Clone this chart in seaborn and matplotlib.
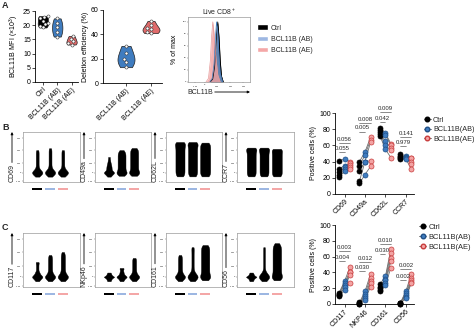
import matplotlib
matplotlib.use('Agg')
import matplotlib.pyplot as plt
import pandas as pd
import seaborn as sns
from matplotlib.patches import Patch, Rectangle
from matplotlib.lines import Line2D
import matplotlib.transforms as mtransforms

# ---------------- data ----------------
mfi_groups = ['Ctrl', 'BCL11B (AB)', 'BCL11B (AE)']
mfi_ctrl = [23.2, 22.8, 22.4, 21.6, 20.8, 20.3, 19.8, 19.2]
mfi_ab = [22.4, 20.6, 19.2, 17.6, 16.0]
mfi_ae = [16.2, 15.2, 14.3, 13.7, 13.2]

del_groups = ['BCL11B (AB)', 'BCL11B (AE)']
del_ab = [30.5, 24.5, 20.0, 17.5, 13.0]
del_ae = [51.0, 47.5, 45.0, 44.0, 42.0, 41.0]

# histogram outlines (x: position in plot, y: % of max)
hist_ctrl_x = [0.36, 0.40, 0.43, 0.45, 0.47, 0.48, 0.50, 0.52, 0.54, 0.57]
hist_ctrl_y = [0, 5, 25, 60, 92, 100, 75, 35, 10, 0]
hist_ab_x = [0.35, 0.39, 0.42, 0.44, 0.46, 0.48, 0.50, 0.52, 0.56]
hist_ab_y = [0, 6, 30, 70, 100, 85, 45, 15, 0]
hist_ae_x = [0.29, 0.33, 0.36, 0.38, 0.40, 0.42, 0.45, 0.48, 0.52]
hist_ae_y = [0, 6, 35, 75, 100, 80, 40, 12, 0]
hist_xticks = [0.11, 0.27, 0.47, 0.68, 0.89]
hist_xticklabels = ['-10$^3$', '0', '10$^3$', '10$^4$', '10$^5$']

# flow cytometry columns (logicle-like units)
flow_ticks = [-0.65, 0, 0.8, 1.85, 2.8]
flow_ticklabels = ['-10$^3$', '0', '10$^3$', '10$^4$', '10$^5$']
blob = [-0.32, -0.24, -0.18, -0.12, -0.08, -0.04, 0, 0, 0.04, 0.08, 0.12, 0.18, 0.24, 0.32]
blob_small = [-0.25, -0.15, -0.05, 0, 0.05, 0.15, 0.25]

cd69_ctrl = blob + [0.45, 0.6, 0.75, 0.9, 1.05, 1.2, 1.35, 1.5, 1.65, 1.8]
cd69_ab = blob + [0.45, 0.6, 0.75, 0.9, 1.05, 1.2, 1.35, 1.5, 1.65, 1.8, 1.95]
cd69_ae = blob + [0.45, 0.6, 0.75, 0.9, 1.05, 1.2, 1.35, 1.5, 1.65, 1.8]
cd49a_ctrl = blob + [0.38, 0.45, 0.52, 0.6, 0.68, 0.78, 0.9, 1.05, 1.25]
cd49a_ab = blob_small + [0.35, 0.45, 0.55, 0.65, 0.75, 0.85, 0.95, 1.05, 1.15, 1.25, 1.35, 1.45, 1.55, 1.65, 1.8]
cd49a_ae = blob_small + [0.35, 0.45, 0.55, 0.65, 0.75, 0.85, 0.95, 1.05, 1.15, 1.25, 1.35, 1.45, 1.55, 1.65, 1.75, 1.85, 1.97]
cd62l_ctrl = [-0.3, -0.15, 0, 0.15, 0.3, 0.45, 0.6, 0.75, 0.9, 1.05, 1.2, 1.35, 1.5, 1.65, 1.8, 1.95, 2.1, 2.25, 2.35, 2.45]
cd62l_ab = [-0.3, -0.15, 0, 0.15, 0.3, 0.45, 0.6, 0.75, 0.9, 1.05, 1.2, 1.35, 1.5, 1.65, 1.8, 1.95, 2.1, 2.25, 2.35, 2.45]
cd62l_ae = [-0.3, -0.15, 0, 0.15, 0.3, 0.45, 0.6, 0.75, 0.9, 1.05, 1.2, 1.35, 1.5, 1.65, 1.8, 1.95, 2.1, 2.25, 2.4]
ccr7_ctrl = [-0.3, -0.15, 0, 0.15, 0.3, 0.45, 0.6, 0.75, 0.9, 1.05, 1.2, 1.35, 1.5, 1.65, 1.8, 1.9, 2.0]
ccr7_ab = [-0.3, -0.15, 0, 0.15, 0.3, 0.45, 0.6, 0.75, 0.9, 1.05, 1.2, 1.35, 1.5, 1.65, 1.8, 1.9, 2.0]
ccr7_ae = [-0.3, -0.15, 0, 0.15, 0.3, 0.45, 0.6, 0.75, 0.9, 1.05, 1.2, 1.35, 1.5, 1.65, 1.8, 1.9]

cd117_ctrl = blob + [0.4, 0.55, 0.7, 0.85, 1.0, 1.1]
cd117_ab = blob + [0.4, 0.5, 0.6, 0.7, 0.8, 0.9, 1.0, 1.1, 1.2, 1.3, 1.4, 1.5, 1.62]
cd117_ae = blob + [0.4, 0.5, 0.6, 0.7, 0.8, 0.9, 1.0, 1.1, 1.2, 1.3, 1.4, 1.5, 1.6, 1.7, 1.84]
nkp46_ctrl = blob
nkp46_ab = blob + [0.4, 0.5, 0.6, 0.66]
nkp46_ae = blob + [0.4, 0.5, 0.6, 0.7, 0.8, 0.9, 1.0, 1.1, 1.2, 1.3, 1.4]
cd161_ctrl = blob + [0.4, 0.5, 0.6, 0.7, 0.8, 0.9, 1.0, 1.1, 1.2, 1.3, 1.4, 1.5, 1.62]
cd161_ab = blob + [0.45, 0.65, 0.85, 1.05, 1.25, 1.45, 1.65, 1.85, 2.05, 2.2]
cd161_ae = blob_small + [0.35, 0.45, 0.55, 0.65, 0.75, 0.85, 0.95, 1.05, 1.15, 1.25, 1.35, 1.45, 1.55, 1.65, 1.75, 1.85, 1.95, 2.05, 2.15, 2.25, 2.36]
cd56_ctrl = blob
cd56_ab = blob + [0.45, 0.7, 0.95, 1.2, 1.45, 1.7, 1.95, 2.2]
cd56_ae = blob_small + [0.35, 0.45, 0.55, 0.65, 0.75, 0.85, 0.95, 1.05, 1.15, 1.25, 1.35, 1.45, 1.55, 1.65, 1.75, 1.85, 1.95, 2.05, 2.15, 2.25, 2.35, 2.5]

# paired percentages (5 donors)
b_markers = ['CD69', 'CD49a', 'CD62L', 'CCR7']
b_ctrl = [[41, 31, 27, 24, 21], [40, 35, 29, 16, 13], [82, 79, 76, 74, 72], [49, 47, 46, 44, 43]]
b_ab = [[43, 35, 33, 31, 28], [52, 48, 40, 40, 24], [75, 73, 65, 60, 55], [47, 46, 45, 44, 43]]
b_ae = [[40, 38, 36, 33, 31], [70, 67, 64, 41, 34], [62, 60, 57, 54, 45], [45, 44, 40, 37, 31]]
b_p_upper = ['0.056', '0.008', '0.009', '0.141']
b_p_upper_y = [63, 88, 101, 70]
b_p_lower = ['0.055', '0.005', '0.042', '0.979']
b_p_lower_y = [52, 77, 89, 59]

c_markers = ['CD117', 'NKP46', 'CD161', 'CD56']
c_ctrl = [[14, 13, 12, 11, 10], [2, 1, 1, 0.5, 0.5], [25, 22, 20, 18, 16], [1.5, 1, 1, 0.5, 0.5]]
c_ab = [[29, 27, 24, 21, 18], [16, 13, 10, 7, 5], [35, 32, 30, 27, 24], [16, 14, 12, 9, 7]]
c_ae = [[47, 41, 40, 37, 27], [38, 33, 29, 26, 22], [70, 65, 58, 54, 46], [38, 33, 30, 28, 27]]
c_p_upper = ['0.003', '0.012', '0.010', '0.002']
c_p_upper_y = [67, 53, 76, 44]
c_p_lower = ['0.004', '0.030', '0.030', '0.002']
c_p_lower_y = [54, 42, 63, 30]

pct_ticks = [0, 20, 40, 60, 80, 100]

# ---------------- style ----------------
sns.set_style('ticks')
plt.rcParams['font.family'] = ['Liberation Sans', 'DejaVu Sans']
plt.rcParams.update({
    'font.size': 5, 'axes.linewidth': 0.6, 'xtick.major.width': 0.5, 'ytick.major.width': 0.5,
    'xtick.major.size': 2, 'ytick.major.size': 2, 'xtick.major.pad': 1, 'ytick.major.pad': 1,
    'axes.labelpad': 1.5, 'axes.edgecolor': 'black', 'xtick.color': 'black', 'ytick.color': 'black',
    'axes.labelcolor': 'black', 'mathtext.default': 'regular', 'axes.labelsize': 5,
    'xtick.labelsize': 5, 'ytick.labelsize': 5,
})

C_CTRL, C_AB, C_AE = '#000000', '#3f7cbf', '#e06b6b'
C_AB_L, C_AE_L = '#9db7e2', '#f4a7a7'

W, H = 474, 331
fig = plt.figure(figsize=(W / 100, H / 100), dpi=100)


def add_ax(x0, y0, x1, y1):
    return fig.add_axes([x0 / W, 1 - y1 / H, (x1 - x0) / W, (y1 - y0) / H])


def rot_labels(ax):
    for t in ax.get_xticklabels():
        t.set_rotation(45)
        t.set_ha('right')
        t.set_rotation_mode('anchor')


# ---------------- Panel A ----------------
df_mfi = pd.DataFrame({'group': ['Ctrl'] * len(mfi_ctrl) + ['BCL11B (AB)'] * len(mfi_ab) + ['BCL11B (AE)'] * len(mfi_ae),
                       'value': mfi_ctrl + mfi_ab + mfi_ae})
ax = add_ax(35, 11, 78, 82)
sns.violinplot(data=df_mfi, x='group', y='value', hue='group', order=mfi_groups, hue_order=mfi_groups,
               palette=[C_CTRL, C_AB, C_AE], cut=0, inner=None, width=0.72, linewidth=0.5,
               linecolor='#222222', legend=False, ax=ax, saturation=1)
sns.swarmplot(data=df_mfi, x='group', y='value', order=mfi_groups, color='white', edgecolor='#333333',
              linewidth=0.4, size=2.2, ax=ax)
ax.set_ylim(0, 25)
ax.set_yticks([0, 5, 10, 15, 20, 25])
ax.set_xlim(-0.55, 2.45)
ax.set_xlabel('')
ax.set_ylabel('BCL11B MFI (×10$^3$)')
rot_labels(ax)
sns.despine(ax=ax)

df_del = pd.DataFrame({'group': ['BCL11B (AB)'] * len(del_ab) + ['BCL11B (AE)'] * len(del_ae),
                       'value': del_ab + del_ae})
ax = add_ax(103, 10, 162, 83)
sns.violinplot(data=df_del, x='group', y='value', hue='group', order=del_groups, hue_order=del_groups,
               palette=[C_AB, C_AE], cut=0, inner=None, width=0.68, linewidth=0.5,
               linecolor='#222222', legend=False, ax=ax, saturation=1)
sns.swarmplot(data=df_del, x='group', y='value', order=del_groups, color='white', edgecolor='#333333',
              linewidth=0.4, size=2.2, ax=ax)
ax.set_ylim(0, 60)
ax.set_yticks([0, 20, 40, 60])
ax.set_xlim(-0.92, 1.44)
ax.set_xlabel('')
ax.set_ylabel('Deletion efficiency (%)')
rot_labels(ax)
sns.despine(ax=ax)

# histogram
ax = add_ax(188, 17, 250, 82)
sns.lineplot(x=hist_ctrl_x, y=hist_ctrl_y, color='black', lw=0.5, ax=ax)
ax.fill_between(hist_ctrl_x, hist_ctrl_y, color='black', lw=0)
sns.lineplot(x=hist_ab_x, y=hist_ab_y, color=C_AB, lw=0.5, ax=ax)
ax.fill_between(hist_ab_x, hist_ab_y, color='#7fa5d8', alpha=0.8, lw=0)
sns.lineplot(x=hist_ae_x, y=hist_ae_y, color='#e59a9a', lw=0.5, ax=ax)
ax.fill_between(hist_ae_x, hist_ae_y, color='#f2a0a0', alpha=0.8, lw=0)
ax.set_xlim(0, 1)
ax.set_ylim(0, 108)
ax.set_xticks(hist_xticks)
ax.set_xticklabels(hist_xticklabels)
ax.set_yticks([0, 20, 40, 60, 80, 100])
ax.tick_params(length=1, width=0.3, labelsize=1.6, pad=0.3, color='#555555')
for s in ax.spines.values():
    s.set_color('#9a9a9a')
    s.set_linewidth(0.5)
ax.set_title('Live CD8$^+$', fontsize=5, pad=1.5)
ax.set_ylabel('% of max', labelpad=3)

fig.legend(handles=[Patch(facecolor='black'), Patch(facecolor=C_AB_L), Patch(facecolor=C_AE_L)],
           labels=['Ctrl', 'BCL11B (AB)', 'BCL11B (AE)'], loc='upper left',
           bbox_to_anchor=(254 / W, 1 - 21 / H), frameon=False, fontsize=5,
           handlelength=1.5, handleheight=0.8, handletextpad=0.4, labelspacing=0.6, borderpad=0)

# ---------------- Flow panels ----------------
arrow_jobs = []


def flow_panel(x0, x1, y0, y1, cols, label):
    ax = add_ax(x0, y0, x1, y1)
    df = pd.DataFrame({'g': sum([[k] * len(c) for k, c in enumerate(cols)], []), 'v': sum(cols, [])})
    sns.violinplot(data=df, x='g', y='v', color='black', cut=0, inner=None, density_norm='width',
                   width=0.8, bw_adjust=0.4, linewidth=0.3, linecolor='black', ax=ax, saturation=1)
    ax.set_xlim(-1.11, 3.34)
    ax.set_ylim(-0.75, 3.25)
    ax.set_xlabel('')
    ax.set_ylabel('')
    ax.set_xticks([])
    ax.set_yticks(flow_ticks)
    ax.set_yticklabels(flow_ticklabels)
    ax.tick_params(axis='y', length=1, width=0.3, labelsize=1.6, pad=0.4, color='#555555')
    for s in ax.spines.values():
        s.set_color('#9a9a9a')
        s.set_linewidth(0.5)
    trans = mtransforms.blended_transform_factory(ax.transData, ax.transAxes)
    hbar = 2.7 / (y1 - y0)
    ycen = -7 / (y1 - y0)
    for k, col in enumerate(['black', C_AB_L, C_AE_L]):
        ax.add_patch(Rectangle((k - 0.39, ycen - hbar / 2), 0.78, hbar, transform=trans, color=col,
                               clip_on=False, lw=0))
    t = fig.text((x0 - 11) / W, 1 - y1 / H, label, rotation=90, ha='center', va='bottom', fontsize=5)
    arrow_jobs.append(('v', t, x0 - 11, H - y0))
    return ax


box_x = [(23, 80), (95, 151), (166, 222), (237, 294)]
b_flow = [[cd69_ctrl, cd69_ab, cd69_ae], [cd49a_ctrl, cd49a_ab, cd49a_ae],
          [cd62l_ctrl, cd62l_ab, cd62l_ae], [ccr7_ctrl, ccr7_ab, ccr7_ae]]
c_flow = [[cd117_ctrl, cd117_ab, cd117_ae], [nkp46_ctrl, nkp46_ab, nkp46_ae],
          [cd161_ctrl, cd161_ab, cd161_ae], [cd56_ctrl, cd56_ab, cd56_ae]]
b_flow_labels = ['CD69', 'CD49a', 'CD62L', 'CCR7']
c_flow_labels = ['CD117', 'NKp46', 'CD161', 'CD56']
for (x0, x1), cols, lab in zip(box_x, b_flow, b_flow_labels):
    flow_panel(x0, x1, 132, 182, cols, lab)
for (x0, x1), cols, lab in zip(box_x, c_flow, c_flow_labels):
    flow_panel(x0, x1, 233, 287, cols, lab)


# ---------------- Paired panels ----------------
def paired_panel(x0, y0, x1, y1, markers, ctrl, ab, ae, pu, puy, pl, ply):
    ax = add_ax(x0, y0, x1, y1)
    rows = []
    for i, m in enumerate(markers):
        for d in range(len(ctrl[i])):
            for g, vals, off in (('Ctrl', ctrl[i], -0.27), ('BCL11B(AB)', ab[i], 0.0), ('BCL11B(AE)', ae[i], 0.27)):
                rows.append(dict(marker=m, donor=f'{m}_{d}', group=g, x=i + off, value=vals[d]))
    df = pd.DataFrame(rows)
    sns.lineplot(data=df, x='x', y='value', units='donor', estimator=None, color='#6e6e6e', lw=0.6,
                 ax=ax, legend=False, sort=False)
    for g, fc, ec in (('Ctrl', 'black', 'black'), ('BCL11B(AB)', C_AB, '#1f4f86'), ('BCL11B(AE)', '#f3a3a3', '#c83c3c')):
        sub = df[df.group == g]
        sns.scatterplot(data=sub, x='x', y='value', color=fc, edgecolor=ec, linewidth=0.5, s=13,
                        ax=ax, legend=False, clip_on=False, zorder=3)
    for i in range(len(markers)):
        ax.plot([i - 0.27, i + 0.27], [puy[i], puy[i]], color='#333333', lw=0.4, clip_on=False)
        ax.text(i, puy[i] + 1.5, pu[i], ha='center', va='bottom', fontsize=4.3, clip_on=False)
        ax.plot([i - 0.27, i], [ply[i], ply[i]], color='#333333', lw=0.4, clip_on=False)
        ax.text(i - 0.13, ply[i] + 1.5, pl[i], ha='center', va='bottom', fontsize=4.3, clip_on=False)
    ax.set_xlim(-0.47, 3.4)
    ax.set_ylim(0, 100)
    ax.set_yticks(pct_ticks)
    ax.set_xticks(range(len(markers)))
    ax.set_xticklabels(markers)
    rot_labels(ax)
    ax.set_xlabel('')
    ax.set_ylabel('Positive cells (%)')
    sns.despine(ax=ax)
    return ax


paired_panel(335, 113, 414, 194, b_markers, b_ctrl, b_ab, b_ae, b_p_upper, b_p_upper_y, b_p_lower, b_p_lower_y)
paired_panel(335, 225, 414, 304, c_markers, c_ctrl, c_ab, c_ae, c_p_upper, c_p_upper_y, c_p_lower, c_p_lower_y)

leg_handles = [Line2D([0], [0], color='#555555', lw=0.6, marker='o', markersize=3.3, markerfacecolor='black', markeredgecolor='black'),
               Line2D([0], [0], color='#555555', lw=0.6, marker='o', markersize=3.3, markerfacecolor=C_AB, markeredgecolor='#1f4f86'),
               Line2D([0], [0], color='#555555', lw=0.6, marker='o', markersize=3.3, markerfacecolor='#f3a3a3', markeredgecolor='#c83c3c')]
leg_labels = ['Ctrl', 'BCL11B(AB)', 'BCL11B(AE)']
fig.legend(handles=leg_handles, labels=leg_labels, loc='upper left', bbox_to_anchor=(420 / W, 1 - 113 / H),
           frameon=False, fontsize=5.2, handlelength=1.0, handletextpad=0.3, labelspacing=0.35, borderpad=0)
fig.legend(handles=leg_handles, labels=leg_labels, loc='upper left', bbox_to_anchor=(415 / W, 1 - 220 / H),
           frameon=False, fontsize=5.4, handlelength=1.0, handletextpad=0.3, labelspacing=0.35, borderpad=0)

# panel letters
for lab, yy in (('A', 5), ('B', 128), ('C', 227)):
    fig.text(2 / W, 1 - yy / H, lab, fontsize=6.5, weight='bold', va='center', ha='left')

# histogram x label with arrow
t_hist = fig.text(187 / W, 1 - 92 / H, 'BCL11B', ha='left', va='center', fontsize=5)
arrow_jobs.append(('h', t_hist, 250, H - 92))

fig.canvas.draw()
renderer = fig.canvas.get_renderer()
for kind, t, a, b in arrow_jobs:
    bb = t.get_window_extent(renderer=renderer)
    if kind == 'v':
        start = (a, bb.y1 + 1.5)
        end = (a, b)
    else:
        start = (bb.x1 + 2, b)
        end = (a, b)
    fig.add_artist(matplotlib.patches.FancyArrowPatch(start, end, transform=None, arrowstyle='-|>',
                                                      mutation_scale=3.5, lw=0.6, color='black',
                                                      shrinkA=0, shrinkB=0))

fig.savefig('out.png', dpi=100)
